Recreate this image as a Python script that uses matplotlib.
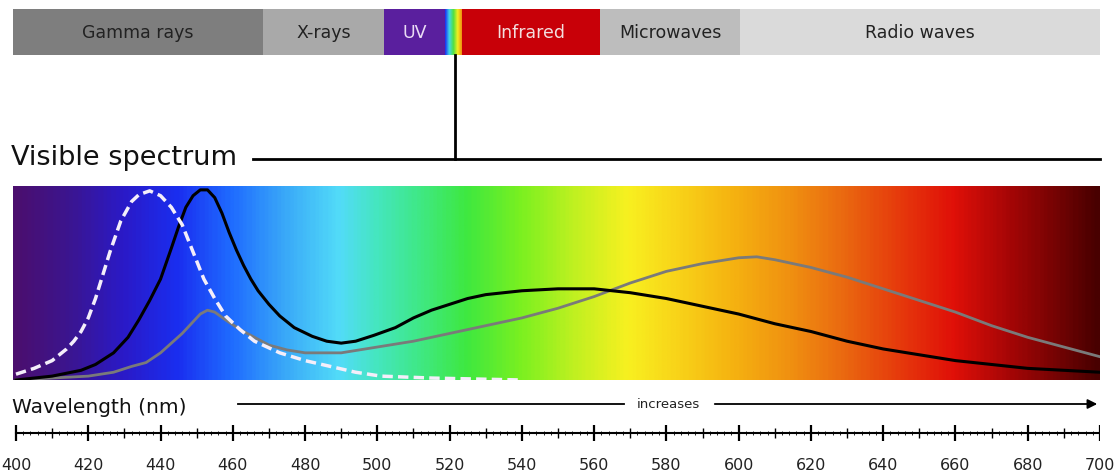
import numpy as np
import matplotlib.pyplot as plt
from matplotlib.colors import LinearSegmentedColormap

plt.rcParams['font.family'] = ['DejaVu Sans']

W, H = 1115, 477

# electromagnetic bands (top bar), edges in px
band_labels = ['Gamma rays', 'X-rays', 'UV', '', 'Infrared', 'Microwaves', 'Radio waves']
band_edges = [13, 263, 384, 445, 462, 600, 740, 1100]
band_colors = ['#7e7e7e', '#a9a9a9', '#5a1f9e', None, '#c80008', '#bdbdbd', '#dadada']
band_text = ['#222222', '#222222', '#eadcf5', '', '#f3dede', '#222222', '#222222']
rainbow_strip = ['#1a2ef0', '#40d8e8', '#50e040', '#f0f020', '#f09010']

# visible spectrum background
spec_nm = [400, 415, 430, 445, 460, 475, 490, 500, 510, 525, 540, 555, 570,
           585, 600, 615, 630, 645, 660, 675, 690, 700]
spec_colors = ['#4b0f6e', '#3b1590', '#2a1ac8', '#1a2ef0', '#1f6cff', '#3aaaf8',
               '#52dcf8', '#45e6c0', '#40e890', '#3ee840', '#7af020', '#c0f020',
               '#f8f020', '#f8d018', '#f5b010', '#f09010', '#ea6810', '#e63a0c',
               '#e01008', '#a80606', '#700303', '#480000']

# curves (relative height)
black_nm = [400, 410, 418, 422, 427, 431, 434, 437, 440, 443, 445, 447, 449, 451, 453,
            455, 457, 459, 461, 463, 465, 467, 470, 473, 477, 482, 486, 490, 494, 499,
            505, 510, 515, 520, 525, 530, 540, 550, 560, 570, 580, 590, 600, 610, 620,
            630, 640, 650, 660, 670, 680, 690, 700]
black_h = [0.00, 0.02, 0.05, 0.08, 0.14, 0.22, 0.31, 0.41, 0.52, 0.68, 0.79, 0.89, 0.95,
           0.98, 0.98, 0.94, 0.86, 0.76, 0.67, 0.59, 0.52, 0.46, 0.39, 0.33, 0.27, 0.225,
           0.20, 0.19, 0.20, 0.23, 0.27, 0.32, 0.36, 0.39, 0.42, 0.44, 0.46, 0.47, 0.47,
           0.45, 0.42, 0.38, 0.34, 0.29, 0.25, 0.20, 0.16, 0.13, 0.10, 0.08, 0.06, 0.05,
           0.04]

white_nm = [400, 405, 410, 414, 416, 418, 420, 422, 424, 426, 429, 432, 434, 437, 440,
            443, 446, 449, 452, 455, 458, 462, 466, 473, 480, 487, 494, 501, 515, 540]
white_h = [0.03, 0.06, 0.10, 0.16, 0.20, 0.25, 0.32, 0.42, 0.54, 0.66, 0.82, 0.92, 0.955,
           0.975, 0.95, 0.89, 0.80, 0.66, 0.52, 0.42, 0.33, 0.26, 0.20, 0.14, 0.10, 0.07,
           0.04, 0.02, 0.01, 0.00]

gray_nm = [400, 410, 420, 427, 432, 436, 440, 443, 446, 449, 451, 453, 455, 458, 462,
           466, 470, 475, 480, 485, 490, 495, 500, 510, 520, 530, 540, 550, 560, 570,
           580, 590, 600, 605, 610, 620, 630, 640, 650, 660, 670, 680, 690, 700]
gray_h = [0.00, 0.01, 0.02, 0.04, 0.07, 0.09, 0.14, 0.19, 0.24, 0.30, 0.34, 0.36, 0.35,
          0.31, 0.26, 0.22, 0.18, 0.155, 0.14, 0.14, 0.14, 0.155, 0.17, 0.20, 0.24, 0.28,
          0.32, 0.37, 0.43, 0.50, 0.56, 0.60, 0.63, 0.635, 0.62, 0.58, 0.53, 0.47, 0.41,
          0.35, 0.28, 0.22, 0.17, 0.12]

tick_labels = list(range(400, 701, 20))


def box(x0, y0, x1, y1):
    return [x0 / W, 1 - y1 / H, (x1 - x0) / W, (y1 - y0) / H]


fig = plt.figure(figsize=(W / 100, H / 100), dpi=100)

# overlay in pixel coords
ov = fig.add_axes([0, 0, 1, 1])
ov.axis('off')
for i, lab in enumerate(band_labels):
    x0, x1 = band_edges[i], band_edges[i + 1]
    if band_colors[i] is None:
        strip = LinearSegmentedColormap.from_list('strip', rainbow_strip)
        ov.imshow(np.linspace(0, 1, 50)[None, :], cmap=strip, aspect='auto',
                  extent=[x0, x1, 56, 10])
        continue
    ov.add_patch(plt.Rectangle((x0, 10), x1 - x0, 46, color=band_colors[i], lw=0))
    ov.text((x0 + x1) / 2, 33, lab, ha='center', va='center', fontsize=12.5,
            color=band_text[i])
ov.plot([455, 455], [56, 160], color='black', lw=2)
ov.plot([253, 1100], [160, 160], color='black', lw=2)
ov.text(11, 165, 'Visible spectrum', fontsize=19.5, ha='left', va='baseline', color='#111111')
ov.text(12, 408, 'Wavelength (nm)', fontsize=14.5, ha='left', va='center', color='#111111')
ov.plot([238, 624], [405, 405], color='black', lw=1.3)
ov.annotate('', xy=(1100, 405), xytext=(712, 405),
            arrowprops=dict(arrowstyle='-|>', color='black', lw=1.3, mutation_scale=14))
ov.text(668, 405, 'increases', fontsize=9.5, ha='center', va='center', color='#222222')
ov.set_xlim(0, W)
ov.set_ylim(H, 0)

# spectrum
nm_lo = 400 - 3 * 300 / 1084
ax = fig.add_axes(box(13, 187, 1100, 381))
cmap = LinearSegmentedColormap.from_list(
    'spec', [((n - 400) / 300, c) for n, c in zip(spec_nm, spec_colors)])
grad = np.linspace(400, 700, 600)[None, :]
ax.imshow(grad, cmap=cmap, aspect='auto', extent=[nm_lo, 700, 0, 1], vmin=400, vmax=700)
ax.plot(gray_nm, gray_h, color='#7a7a7a', lw=2, solid_joinstyle='round')
ax.plot(black_nm, black_h, color='black', lw=2.2, solid_joinstyle='round')
ax.plot(white_nm, white_h, color='#f4eefa', lw=2.5, dashes=(3, 1.5))
ax.set_xlim(nm_lo, 700)
ax.set_ylim(0, 1)
ax.axis('off')

# ruler
rl = fig.add_axes(box(13, 415, 1100, 477))
rl.axis('off')
rl.plot([400, 700], [434, 434], color='black', lw=1.5)
minor = np.arange(400, 701, 2)
rl.vlines(minor, 432, 436, color='black', lw=0.6)
rl.vlines(np.arange(410, 701, 20), 429, 439, color='black', lw=1)
rl.vlines(tick_labels, 426, 442, color='black', lw=1.6)
for t in tick_labels:
    rl.text(t, 466, str(t), ha='center', va='center', fontsize=11.5, color='#222222',
            clip_on=False)
rl.set_xlim(nm_lo, 700)
rl.set_ylim(477, 415)

fig.savefig('out.png', dpi=100)
